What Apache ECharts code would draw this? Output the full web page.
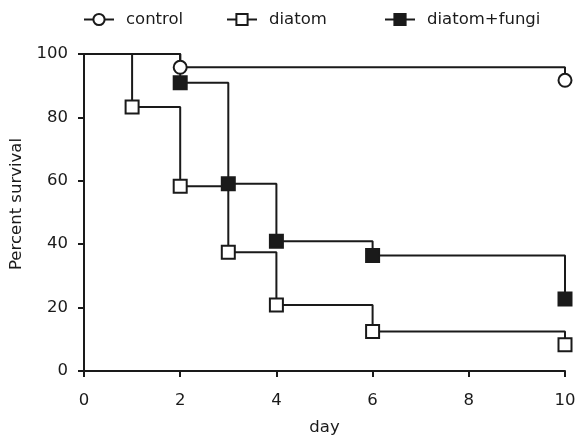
<!DOCTYPE html>
<html>
<head>
<meta charset="utf-8">
<script src="https://cdn.jsdelivr.net/npm/echarts@6/dist/echarts.min.js"></script>
<style>
  html, body { margin: 0; padding: 0; background: #fff; }
  #main { width: 583px; height: 441px; }
</style>
</head>
<body>
<div id="main"></div>
<script>
// survival data
var controlDays = [0, 2, 10];
var controlSurv = [100, 95.8, 91.7];
var diatomDays = [0, 1, 2, 3, 4, 6, 10];
var diatomSurv = [100, 83.3, 58.3, 37.5, 20.8, 12.5, 8.3];
var fungiDays = [0, 2, 3, 4, 6, 10];
var fungiSurv = [100, 90.9, 59.1, 40.9, 36.4, 22.7];
var xTicks = [0, 2, 4, 6, 8, 10];
var yTicks = [0, 20, 40, 60, 80, 100];
var names = ['control', 'diatom', 'diatom+fungi'];

var ink = '#1a1a1a';
var font = 'DejaVu Sans, sans-serif';
var fs = 16.5;

// first point is the start of the curve, no marker there
function pairs (xs, ys) {
  return xs.map(function (x, i) {
    var item = { value: [x, ys[i]] };
    if (i === 0) item.symbol = 'none';
    return item;
  });
}

function stepSeries (name, xs, ys, symbol, fill) {
  return {
    name: name,
    type: 'line',
    step: 'end',
    data: pairs(xs, ys),
    symbol: symbol,
    symbolSize: 13,
    showAllSymbol: true,
    lineStyle: { color: ink, width: 2 },
    itemStyle: { color: fill, borderColor: ink, borderWidth: 2 },
    emphasis: { disabled: true },
    z: 2
  };
}

// one legend per item, the columns in the picture are not evenly spaced
function legendAt (name, left) {
  return {
    data: [name],
    left: left,
    top: 11,
    padding: 0,
    itemWidth: 30,
    itemHeight: 14,
    textStyle: { color: ink, fontSize: fs, fontFamily: font, padding: [0, 0, 0, 7] }
  };
}

var chart = echarts.init(document.getElementById('main'));
var option = {
  animation: false,
  backgroundColor: '#fff',
  legend: [
    legendAt(names[0], 83),
    legendAt(names[1], 226),
    legendAt(names[2], 384)
  ],
  grid: { left: 84, right: 18, top: 54, bottom: 67 },
  xAxis: {
    type: 'value',
    min: xTicks[0],
    max: xTicks[xTicks.length - 1],
    interval: 2,
    name: 'day',
    nameLocation: 'middle',
    nameGap: 48,
    nameTextStyle: { color: ink, fontSize: fs, fontFamily: font },
    axisLine: { lineStyle: { color: ink, width: 2 } },
    axisTick: { show: true, length: 6, lineStyle: { color: ink, width: 2 } },
    axisLabel: { color: ink, fontSize: fs, fontFamily: font, margin: 21 },
    splitLine: { show: false }
  },
  yAxis: {
    type: 'value',
    min: yTicks[0],
    max: yTicks[yTicks.length - 1],
    interval: 20,
    name: 'Percent survival',
    nameLocation: 'middle',
    nameGap: 59,
    nameTextStyle: { color: ink, fontSize: fs, fontFamily: font, padding: [0, 0, 0, 17] },
    axisLine: { show: true, lineStyle: { color: ink, width: 2 } },
    axisTick: { show: true, length: 6, lineStyle: { color: ink, width: 2 } },
    axisLabel: { color: ink, fontSize: fs, fontFamily: font, margin: 16 },
    splitLine: { show: false }
  },
  series: [
    stepSeries(names[0], controlDays, controlSurv, 'circle', '#fff'),
    stepSeries(names[1], diatomDays, diatomSurv, 'rect', '#fff'),
    stepSeries(names[2], fungiDays, fungiSurv, 'rect', ink)
  ]
};
chart.setOption(option);
</script>
</body>
</html>
